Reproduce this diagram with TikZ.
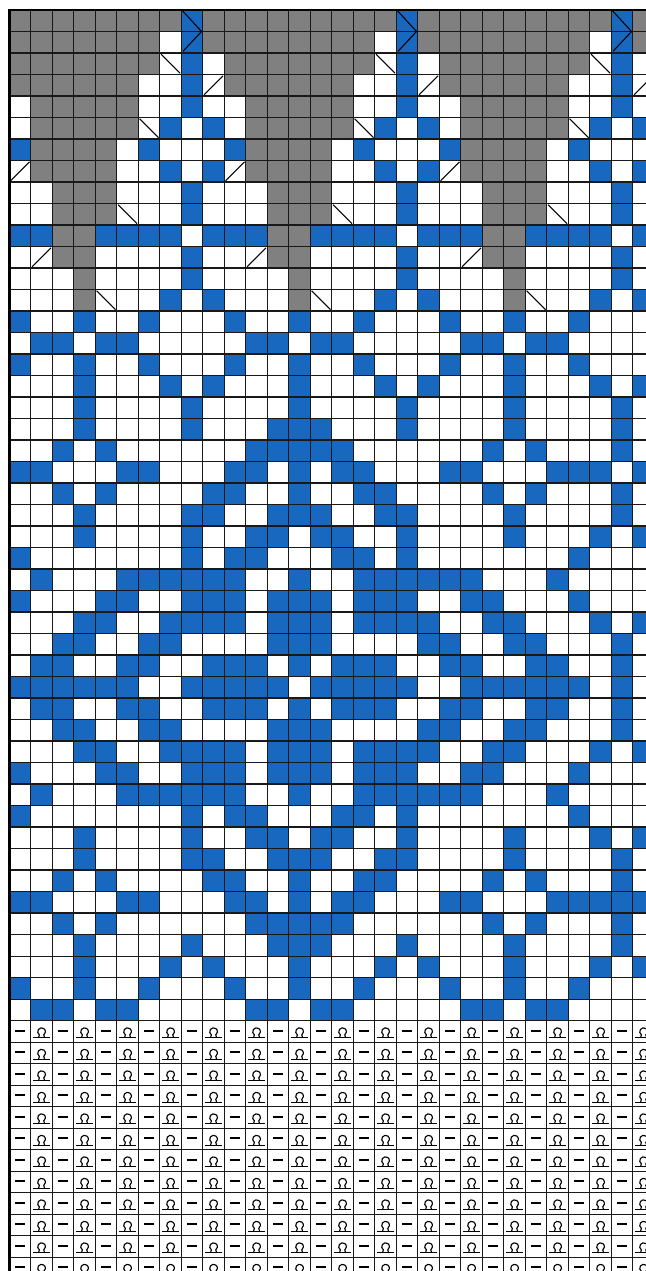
\documentclass[tikz,border=0pt]{standalone}
\usepackage{tikz}
\usetikzlibrary{calc}

\definecolor{wzor}{RGB}{24,104,191}
\definecolor{szary}{RGB}{128,128,128}

\begin{document}
\begin{tikzpicture}[
        siatka/.style={black!90, line width=1.4pt},
        znak/.style={black, line width=1.4pt},
        kreska/.style={black, line width=2.4pt},
        petla/.style={black, line width=1.5pt},
        ramka/.style={black, line width=3.5pt}
    ]
        % ============================================================
        % Jedno oczko = 1 jedn. (1 cm), 30 oczek x 59 rzędów
        % rząd 0 na górze, y rośnie w dół (ujemne)
        % ============================================================
        \useasboundingbox (-0.433, 0.465) rectangle (29.61, -58.65);
        \clip (-0.433, 0.465) rectangle (29.61, -58.65);

        % === 1. GÓRA: szare pola (raport co 10 oczek) ===
        \foreach \k in {0,10,20} {
            \foreach \r/\a/\b in {0/0/7, 1/0/6, 2/0/6, 3/0/5, 4/1/5, 5/1/5,
                    6/1/4, 7/1/4, 8/2/4, 9/2/4, 10/2/3, 11/2/3, 12/3/3, 13/3/3} {
                \fill[szary] (\k+\a, -\r) rectangle (\k+\b+1, -\r-1);
            }
            \fill[szary] (\k+9, 0) rectangle (\k+10, -2);

            % niebieskie oczka w raporcie
            \foreach \r/\lista in {0/{8}, 1/{8}, 2/{8}, 3/{8}, 4/{8}, 5/{7,9},
                    6/{0,6}, 7/{7,9}, 8/{8}, 9/{8}, 10/{0,1,4,5,6,7,9},
                    11/{8}, 12/{8}, 13/{7,9}} {
                \foreach \c in \lista {
                    \fill[wzor] (\k+\c, -\r) rectangle (\k+\c+1, -\r-1);
                }
            }
        }

        % === 2. DUŻY ROMB: rzędy 14 ... 46 (środek w oczku 13) ===
        \foreach \r/\lista in {
                14/{0,3,6,10,13,16,20,23,26},
                15/{1,2,4,5,11,12,14,15,21,22,24,25},
                16/{0,3,6,10,13,16,20,23,26},
                17/{3,7,9,13,17,19,23,27,29},
                18/{3,8,13,18,23,28},
                19/{3,8,12,13,14,18,23,28},
                20/{2,4,11,12,13,14,15,22,24,28},
                21/{0,1,5,6,10,11,13,15,16,20,21,25,26,27,29},
                22/{2,4,9,10,13,16,17,22,24,28},
                23/{3,8,9,12,13,14,17,18,23,28},
                24/{3,8,11,12,14,15,18,23,27,29},
                25/{0,8,10,11,15,16,18,26},
                26/{1,5,6,7,8,9,10,13,16,17,18,19,20,21,25},
                27/{0,4,5,8,9,10,12,13,14,16,17,18,21,22,26},
                28/{3,4,7,8,9,10,12,13,14,16,17,18,19,22,23,27,29},
                29/{2,3,6,7,12,13,14,19,20,23,24,28},
                30/{1,2,5,6,9,10,11,13,15,16,17,20,21,24,25,28},
                31/{0,1,2,3,4,5,8,9,10,11,12,14,15,16,17,18,21,22,23,24,25,26,28},
                32/{1,2,5,6,9,10,11,13,15,16,17,20,21,24,25,28},
                33/{2,3,6,7,12,13,14,19,20,23,24,28},
                34/{3,4,7,8,9,10,12,13,14,16,17,18,19,22,23,27,29},
                35/{0,4,5,8,9,10,12,13,14,16,17,18,21,22,26},
                36/{1,5,6,7,8,9,10,13,16,17,18,19,20,21,25},
                37/{0,8,10,11,15,16,18,26},
                38/{3,8,11,12,14,15,18,23,27,29},
                39/{3,8,9,12,13,14,17,18,23,28},
                40/{2,4,9,10,13,16,17,22,24,28},
                41/{0,1,5,6,10,11,13,15,16,20,21,25,26,27,28,29},
                42/{2,4,11,12,13,14,15,22,24,28},
                43/{3,8,12,13,14,18,23,28},
                44/{3,7,9,13,17,19,23,27,29},
                45/{0,3,6,10,13,16,20,23,26},
                46/{1,2,4,5,11,12,14,15,21,22,24,25}} {
            \foreach \c in \lista {
                \fill[wzor] (\c, -\r) rectangle (\c+1, -\r-1);
            }
        }

        % === 3. SIATKA ===
        \draw[siatka] (0,0) grid (30,-59);

        % === 4. ZNAKI UBYWANIA (skosy) i strzałka u góry ===
        \foreach \k in {0,10,20} {
            \foreach \r/\c in {2/7, 5/6, 9/5, 13/4} {
                \draw[znak] (\k+\c+0.06, -\r-0.06) -- (\k+\c+0.94, -\r-0.94);
            }
            \foreach \r/\c in {3/9, 7/0, 11/1} {
                \draw[znak] (\k+\c+0.06, -\r-0.94) -- (\k+\c+0.94, -\r-0.06);
            }
            \draw[znak] (\k+8.04, -0.02) -- (\k+8.94, -1) -- (\k+8.08, -1.92);
        }

        % === 5. ŚCIĄGACZ: rzędy 47 ... 58 (lewe / przekręcone) ===
        \foreach \r in {47,...,58} {
            \pgfmathsetmacro{\yk}{-\r - 0.48}
            \pgfmathsetmacro{\yb}{-\r - 0.8}
            \foreach \c in {0,2,...,28} {
                \draw[kreska] (\c+0.27, \yk) -- (\c+0.75, \yk);
            }
            \foreach \c in {1,3,...,29} {
                \draw[petla] (\c+0.12, \yb) -- (\c+0.88, \yb);
                \draw[petla] (\c+0.36, \yb) -- (\c+0.397, -\r-0.667)
                    arc[start angle=235, end angle=-55, radius=0.18]
                    -- (\c+0.64, \yb);
            }
        }

        % === 6. RAMKA (góra i lewa krawędź) ===
        \draw[ramka] (0,-59) -- (0,0) -- (30,0);

    \end{tikzpicture}
\end{document}
